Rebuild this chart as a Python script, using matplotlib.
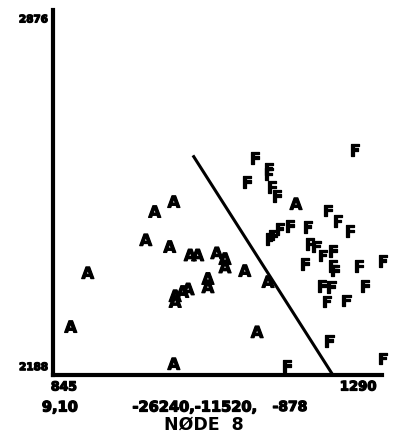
import matplotlib.pyplot as plt
import matplotlib.patheffects as pe

# точки класу A
a_x = [1022, 994, 981, 1016, 1046, 1057, 1085, 1097, 1097, 1126, 896,
       1160, 1072, 1072, 1043, 1035, 1024, 1024, 871, 1144, 1022, 1201]
a_y = [2517, 2498, 2444, 2431, 2415, 2415, 2419, 2408, 2392, 2385, 2381,
       2364, 2370, 2354, 2350, 2345, 2337, 2326, 2278, 2268, 2207, 2513]

# точки класу F
f_x = [1287, 1141, 1161, 1161, 1129, 1166, 1173, 1248, 1262, 1280, 1218,
       1167, 1177, 1192, 1163, 1221, 1231, 1255, 1240, 1214, 1255, 1258,
       1293, 1328, 1239, 1253, 1302, 1246, 1275, 1250, 1188, 1328]
f_y = [2616, 2601, 2580, 2570, 2555, 2545, 2528, 2500, 2480, 2461, 2469,
       2452, 2465, 2471, 2446, 2436, 2431, 2423, 2414, 2398, 2394, 2385,
       2394, 2404, 2356, 2354, 2356, 2326, 2328, 2251, 2203, 2217]

# розділова лінія
line_x = [1050, 1255]
line_y = [2608, 2188]

x_labels = ['845', '1290']
y_labels = ['2876', '2188']
x_min, x_max = 845, 1290
y_min, y_max = 2188, 2876

# жирніший "друкарський" вигляд
thick = [pe.withStroke(linewidth=0.9, foreground='black')]

fig = plt.figure(figsize=(3.93, 4.41), dpi=100)
ax = fig.add_axes([53 / 393, 66 / 441, 329 / 393, 365 / 441])
ax.set_xlim(845, 1327)
ax.set_ylim(2188, 2886)

for x, y in zip(a_x, a_y):
    ax.text(x, y, 'A', ha='center', va='center', fontsize=11.5,
            fontweight='bold', clip_on=False, path_effects=thick)
for x, y in zip(f_x, f_y):
    ax.text(x, y, 'F', ha='center', va='center', fontsize=11.5,
            fontweight='bold', clip_on=False, path_effects=thick)

ax.plot(line_x, line_y, color='black', linewidth=2.2, solid_capstyle='butt')

for s in ['top', 'right']:
    ax.spines[s].set_visible(False)
for s in ['left', 'bottom']:
    ax.spines[s].set_linewidth(3)
ax.set_xticks([])
ax.set_yticks([])

# підписи осей
ax.text(-0.015, y_max - 8, y_labels[0], transform=ax.get_yaxis_transform(),
        ha='right', va='center', fontsize=7.5, fontweight='bold',
        path_effects=thick)
ax.text(-0.015, y_min + 15, y_labels[1], transform=ax.get_yaxis_transform(),
        ha='right', va='center', fontsize=7.5, fontweight='bold',
        path_effects=thick)
ax.text(x_min + 16, -0.015, x_labels[0], transform=ax.get_xaxis_transform(),
        ha='center', va='top', fontsize=9, fontweight='bold',
        path_effects=thick)
ax.text(x_max + 2, -0.015, x_labels[1], transform=ax.get_xaxis_transform(),
        ha='center', va='top', fontsize=9.5, fontweight='bold',
        path_effects=thick)

fig.text(60 / 393, 1 - 407 / 441, '9,10', ha='center', va='center',
         fontsize=10.5, fontweight='bold', path_effects=thick)
fig.text(195 / 393, 1 - 407 / 441, '-26240,-11520,', ha='center',
         va='center', fontsize=10.5, fontweight='bold', path_effects=thick)
fig.text(290 / 393, 1 - 407 / 441, '-878', ha='center', va='center',
         fontsize=10, fontweight='bold', path_effects=thick)
fig.text(204 / 393, 1 - 425 / 441, 'NØDE  8', ha='center', va='center',
         fontsize=12.5, fontweight='bold')

fig.savefig('out.png', dpi=100)
